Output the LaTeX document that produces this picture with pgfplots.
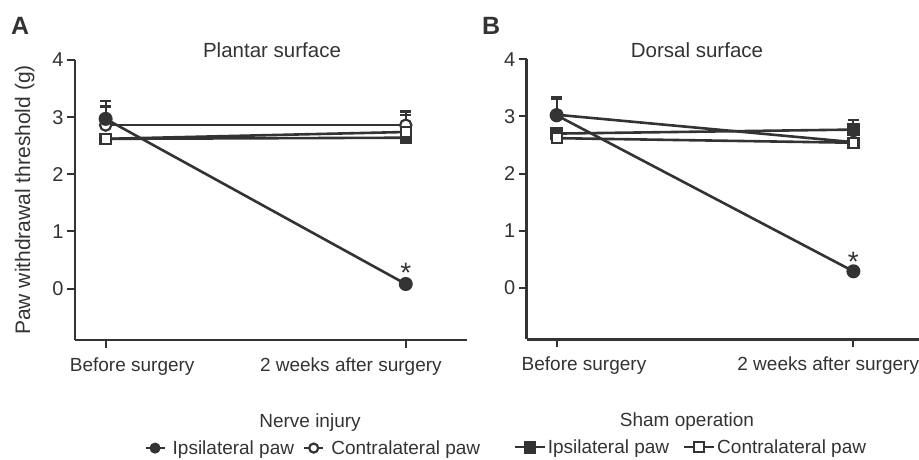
\documentclass[border=0pt]{standalone}
\usepackage{fontspec}
\setmainfont{Liberation Sans}
\usepackage{pgfplots}
\pgfplotsset{compat=1.18}
\definecolor{dk}{RGB}{51,51,51}

\pgfplotsset{
  panel/.style={
    scale only axis, width=392pt, height=280pt,
    anchor=south west,
    ymin=-0.9, ymax=4,
    axis lines=left,
    axis line style={-, line width=2.5pt, draw=dk},
    xtick={0,1},
    ytick={0,1,2,3,4},
    tick align=outside, major tick length=8pt,
    tick style={line width=2pt, draw=dk},
    every tick label/.append style={text=dk},
    xticklabel style={font=\fontsize{19}{23}\selectfont, yshift=-6pt},
    yticklabel style={font=\fontsize{20}{24}\selectfont},
    /pgf/number format/assume math mode=true,
    clip=false,
    legend style={draw=none, fill=none, font=\fontsize{19}{23}\selectfont, text=dk,
      anchor=center},
    legend columns=2,
  },
  niI/.style={draw=dk, line width=2.6pt, mark=*, mark size=6pt, mark options={solid, draw=dk, fill=dk, line width=2pt}},
  niC/.style={draw=dk, line width=2.6pt, mark=*, mark size=5.6pt, mark options={solid, draw=dk, fill=white, line width=2.2pt}},
  shI/.style={draw=dk, line width=2.6pt, mark=square*, mark size=5.2pt, mark options={solid, draw=dk, fill=dk, line width=2pt}},
  shC/.style={draw=dk, line width=2.6pt, mark=square*, mark size=5pt, mark options={solid, draw=dk, fill=white, line width=2.2pt}},
  eb/.style={error bars/.cd, y dir=plus, y explicit,
    error bar style={line width=2pt, draw=dk},
    error mark options={rotate=90, line width=2.5pt, mark size=5.5pt, draw=dk}, /pgfplots/.cd},
}

\begin{document}
\begin{tikzpicture}
\useasboundingbox (0pt,0pt) rectangle (919pt,-460pt);

% ---------------- Panel A ----------------
\begin{axis}[panel, at={(75pt,-340pt)}, xmin=-0.102, xmax=1.204,
  xticklabels={{\makebox[0pt][l]{\hspace*{-35.7pt}Before surgery}},
               {\makebox[0pt][l]{\hspace*{-145.7pt}2 weeks after surgery}}},
  ylabel={Paw withdrawal threshold (g)},
  ylabel style={at={(axis description cs:-0.128,0.5)}, anchor=center,
    font=\fontsize{21}{25}\selectfont, text=dk},
  legend image code/.code={\draw[#1, line width=2.2pt, mark=none] (0pt,0pt) -- (19pt,0pt);
    \draw[#1, mark size=4.5pt, line width=2pt] plot coordinates {(9.5pt,0pt)};},
  legend style={at={(axis description cs:0.608,-0.386)},
    /tikz/every odd column/.append style={column sep=5pt},
    /tikz/every even column/.append style={column sep=7pt}},
]
\addlegendimage{niI}\addlegendentry{Ipsilateral paw}
\addlegendimage{niC}\addlegendentry{Contralateral paw}
\addplot[forget plot, niC, eb] coordinates {(0,2.86) +- (0,0.33) (1,2.86) +- (0,0.24)};
\addplot[forget plot, niI, eb] coordinates {(0,2.97) +- (0,0.31) (1,0.08) +- (0,0.04)};
\addplot[forget plot, shI, eb] coordinates {(0,2.62) +- (0,0.06) (1,2.64) +- (0,0.06)};
\addplot[forget plot, shC, eb] coordinates {(0,2.62) +- (0,0.05) (1,2.74) +- (0,0.30)};
\node[anchor=base, font=\fontsize{28}{30}\selectfont, text=dk] at (axis cs:1,0.10) {*};
\end{axis}

% ---------------- Panel B ----------------
\begin{axis}[panel, at={(526.7pt,-339.3pt)}, xmin=-0.101, xmax=1.22,
  xticklabels={{\makebox[0pt][l]{\hspace*{-35pt}Before surgery}},
               {\makebox[0pt][l]{\hspace*{-116pt}2 weeks after surgery}}},
  legend image code/.code={\draw[mark repeat=2,mark phase=2,#1, line width=2pt]
    plot coordinates {(0pt,0pt) (15pt,0pt) (30pt,0pt)};},
  legend style={at={(axis description cs:0.419,-0.386)},
    /tikz/every even column/.append style={column sep=12pt}},
]
\addlegendimage{shI}\addlegendentry{Ipsilateral paw}
\addlegendimage{shC}\addlegendentry{Contralateral paw}
\addplot[forget plot, niC, eb] coordinates {(0,3.03) +- (0,0.28) (1,2.55) +- (0,0.05)};
\addplot[forget plot, niI, eb] coordinates {(0,3.02) +- (0,0.31) (1,0.29) +- (0,0.04)};
\addplot[forget plot, shI, eb] coordinates {(0,2.70) +- (0,0.05) (1,2.77) +- (0,0.17)};
\addplot[forget plot, shC, eb] coordinates {(0,2.62) +- (0,0.04) (1,2.54) +- (0,0.05)};
\node[anchor=base, font=\fontsize{28}{30}\selectfont, text=dk] at (axis cs:1,0.29) {*};
\end{axis}

% titles and labels
\node[anchor=base west, inner sep=0, font=\fontsize{25}{30}\selectfont\bfseries, text=dk] at (11pt,-35pt) {A};
\node[anchor=base west, inner sep=0, font=\fontsize{25}{30}\selectfont\bfseries, text=dk] at (482pt,-35pt) {B};
\node[anchor=base, inner sep=0, font=\fontsize{20.5}{24}\selectfont, text=dk] at (272pt,-58pt) {Plantar surface};
\node[anchor=base, inner sep=0, font=\fontsize{20.5}{24}\selectfont, text=dk] at (697pt,-58pt) {Dorsal surface};
\node[anchor=base, inner sep=0, font=\fontsize{19}{23}\selectfont, text=dk] at (310pt,-427pt) {Nerve injury};
\node[anchor=base, inner sep=0, font=\fontsize{19}{23}\selectfont, text=dk] at (687pt,-426pt) {Sham operation};
\end{tikzpicture}
\end{document}
